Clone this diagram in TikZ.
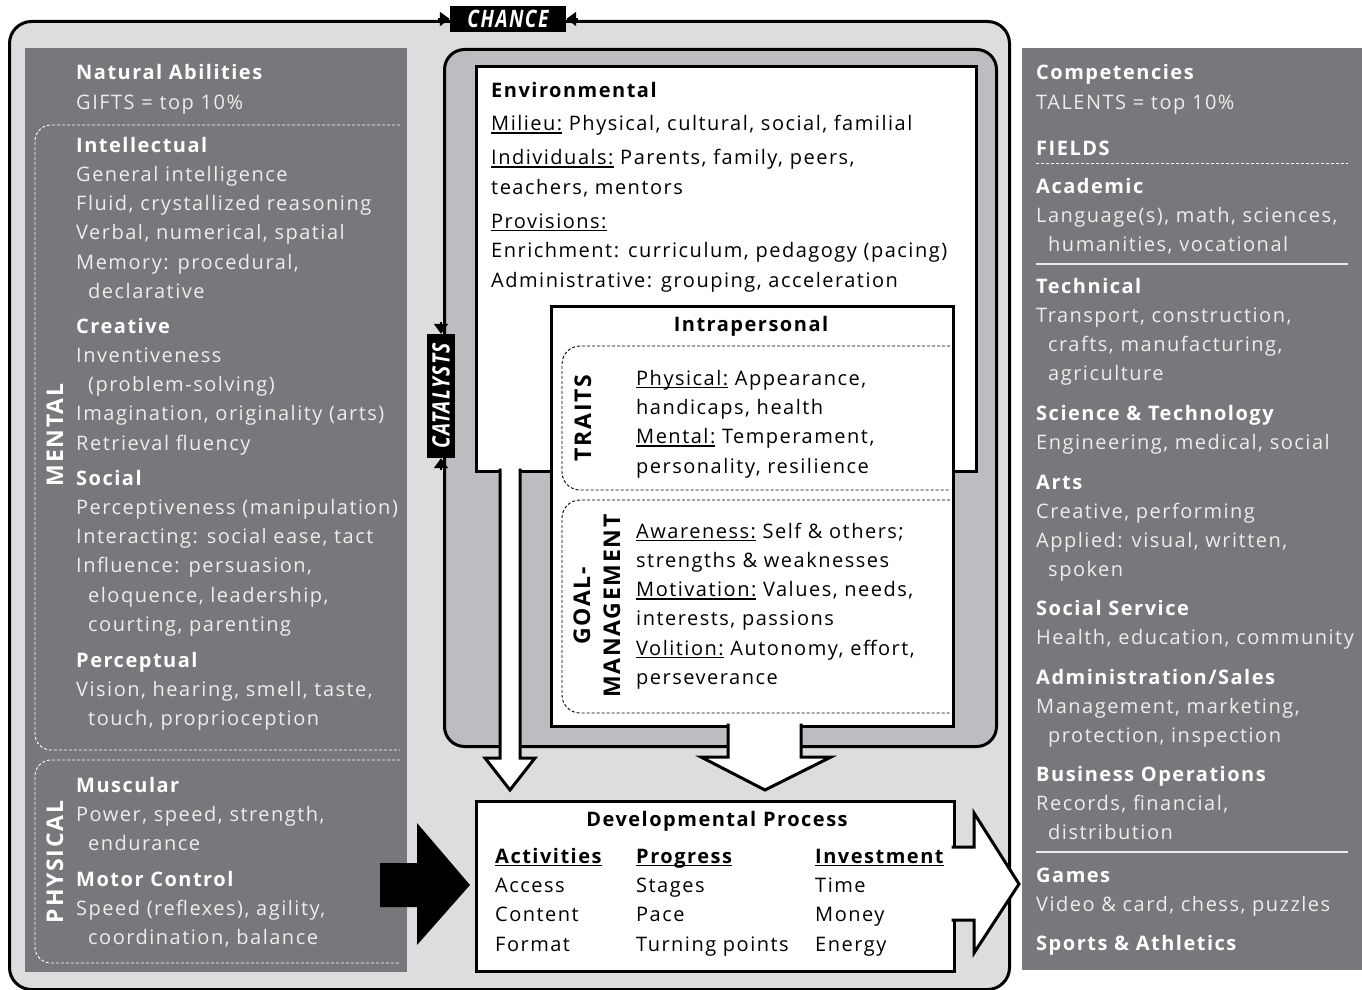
\documentclass[tikz,border=0pt]{standalone}
\usepackage{fontspec}
\setmainfont{Open Sans}[LetterSpace=7.5]
\usepackage{graphicx}
\usetikzlibrary{arrows.meta,positioning}

\definecolor{outerbg}{HTML}{DCDDDE}
\definecolor{innerbg}{HTML}{BCBDC0}
\definecolor{panelbg}{HTML}{77787B}
\definecolor{paneltxt}{HTML}{EDEDED}

\newcommand{\undl}[1]{\setbox0\hbox{#1}\rlap{\rule[-3pt]{\wd0}{1.4pt}}\box0\relax}
\newcommand{\hd}[1]{{\bfseries\color{white}#1}}
\newcommand{\ind}{\hspace*{12pt}}

\begin{document}
\begin{tikzpicture}[x=1pt,y=-1pt]
  \tikzset{
    every node/.style={inner sep=0pt},
    body/.style={font=\fontsize{20}{29.3}\selectfont},
    % multi-line texts are placed by the baseline of their last line
    paneltext/.style={body, anchor=base west, align=left, text=paneltxt},
    boxtext/.style={body, anchor=base west, align=left, text=black},
    sidelabel/.style={rotate=90, font=\bfseries\fontsize{23}{30}\selectfont},
    tag/.style={fill=black, text=white, font=\bfseries\itshape\fontsize{24}{24}\selectfont},
    box/.style={draw=black, line width=3pt, anchor=north west},
    whitebox/.style={box, fill=white},
    dashline/.style={dash pattern=on 3pt off 2pt, line width=0.9pt},
    shape arrow/.style={draw=black, line width=3pt, fill=white, line join=miter},
    tip/.style={-{Triangle[length=10pt,width=14pt]}, line width=2pt},
  }
  \useasboundingbox (0,0) rectangle (1362,990);

  % outer frame and the two side panels
  \node[box, fill=outerbg, rounded corners=22, minimum width=1000, minimum height=968] (frame) at (8,20) {};
  \node[anchor=north west, fill=panelbg, minimum width=382, minimum height=924] (gifts) at (25,48) {};
  \node[anchor=north west, fill=panelbg, minimum width=340, minimum height=922] (talents) at (1022,48) {};

  % catalysts area
  \node[box, fill=innerbg, rounded corners=20, minimum width=552, minimum height=697] (catbox) at (443,48) {};
  \node[whitebox, minimum width=500, minimum height=405] (env) at (475,65) {};
  \node[whitebox, minimum width=402, minimum height=420] (intra) at (550,305) {};
  \node[whitebox, minimum width=478, minimum height=170] (dev) at (475,800) {};

  % arrows into the developmental process
  \draw[shape arrow] (500,468.5) -- (500,758) -- (485,758) -- (510,790) -- (535,758) -- (520,758) -- (520,468.5);
  \draw[shape arrow] (728,723.5) -- (728,757) -- (701,757) -- (765,790) -- (831,757) -- (801,757) -- (801,723.5);
  \draw[shape arrow] (951.5,847) -- (974,847) -- (974,813) -- (1019,884) -- (974,953) -- (974,920) -- (951.5,920);
  \fill[black] (380,863) -- (417,863) -- (417,823) -- (470,885) -- (417,945) -- (417,907) -- (380,907) -- cycle;

  % chance and catalysts tags
  \node[tag, minimum width=116, minimum height=26] (chance) at (508,19) {\scalebox{0.8}[1]{CHANCE}};
  \draw[tip] ([xshift=-12pt]chance.west) -- (chance.west);
  \draw[tip] ([xshift=12pt]chance.east) -- (chance.east);
  \node[tag, rotate=90, minimum width=124, minimum height=28] (catalysts) at (441,396) {\scalebox{0.8}[1]{CATALYSTS}};
  \draw[tip] ([yshift=12pt]catalysts.east) -- (catalysts.east);
  \draw[tip] ([yshift=-12pt]catalysts.west) -- (catalysts.west);

  % dashed groups, left panel
  \draw[white, dashline, rounded corners=16] (400,125) -- (35,125) -- (35,750) -- (400,750);
  \draw[white, dashline, rounded corners=16] (400,760) -- (35,760) -- (35,963) -- (400,963);
  \node[sidelabel, text=white] (mental) at (55,435) {MENTAL};
  \node[sidelabel, text=white] (physical) at (55,862) {PHYSICAL};

  % natural abilities
  \node[paneltext] (nat) at (76,109.3) {\hd{Natural Abilities}\\GIFTS = top 10\%};
  \node[paneltext] (intel) at (76,298.5) {\hd{Intellectual}\\General intelligence\\Fluid, crystallized reasoning\\Verbal, numerical, spatial\\Memory: procedural,\\\ind declarative};
  \node[paneltext] (creat) at (76,450.2) {\hd{Creative}\\Inventiveness\\\ind(problem-solving)\\Imagination, originality (arts)\\Retrieval fluency};
  \node[paneltext] (soc) at (76,631.5) {\hd{Social}\\Perceptiveness (manipulation)\\Interacting: social ease, tact\\Influence: persuasion,\\\ind eloquence, leadership,\\\ind courting, parenting};
  \node[paneltext] (perc) at (76,725.6) {\hd{Perceptual}\\Vision, hearing, smell, taste,\\\ind touch, proprioception};
  \node[paneltext] (musc) at (76,850.6) {\hd{Muscular}\\Power, speed, strength,\\\ind endurance};
  \node[paneltext] (motor) at (76,944.6) {\hd{Motor Control}\\Speed (reflexes), agility,\\\ind coordination, balance};

  % environmental
  \node[boxtext] (envtext) at (491,287) {\bfseries Environmental\\[4pt]
    \undl{Milieu:} Physical, cultural, social, familial\\[5pt]
    \undl{Individuals:} Parents, family, peers,\\teachers, mentors\\[5pt]
    \undl{Provisions:}\\Enrichment: curriculum, pedagogy (pacing)\\Administrative: grouping, acceleration};

  % intrapersonal
  \node[anchor=base, font=\bfseries\fontsize{20}{29.3}\selectfont] (intratitle) at (751,331) {Intrapersonal};
  \draw[dashline, rounded corners=18] (950,346) -- (562,346) -- (562,490) -- (950,490);
  \draw[dashline, rounded corners=18] (950,500) -- (562,500) -- (562,713) -- (950,713);
  \node[sidelabel] (traits) at (583,418) {TRAITS};
  \node[sidelabel, align=center] (goal) at (597,606) {GOAL-\\MANAGEMENT};
  \node[boxtext] (traittext) at (636,473) {\undl{Physical:} Appearance,\\handicaps, health\\\undl{Mental:} Temperament,\\personality, resilience};
  \node[boxtext] (goaltext) at (636,684.5) {\undl{Awareness:} Self \& others;\\strengths \& weaknesses\\\undl{Motivation:} Values, needs,\\interests, passions\\\undl{Volition:} Autonomy, effort,\\perseverance};

  % developmental process
  \node[anchor=base, font=\bfseries\fontsize{20}{29.3}\selectfont] (devtitle) at (717,826) {Developmental Process};
  \node[boxtext] (activ) at (495,951) {\undl{\bfseries Activities}\\Access\\Content\\Format};
  \node[boxtext] (progr) at (636,951) {\undl{\bfseries Progress}\\Stages\\Pace\\Turning points};
  \node[boxtext] (invest) at (815,951) {\undl{\bfseries Investment}\\Time\\Money\\Energy};

  % competencies
  \node[paneltext] (comp) at (1036,109.3) {\hd{Competencies}\\TALENTS = top 10\%};
  \node[paneltext] (fields) at (1036,155) {\hd{FIELDS}};
  \draw[white, dashline] (1036,163) -- (1348,163);
  \node[paneltext] (acad) at (1036,251.6) {\hd{Academic}\\Language(s), math, sciences,\\\ind humanities, vocational};
  \draw[paneltxt, line width=1.5pt] (1036,264) -- (1348,264);
  \node[paneltext] (tech) at (1036,380.9) {\hd{Technical}\\Transport, construction,\\\ind crafts, manufacturing,\\\ind agriculture};
  \node[paneltext] (scitech) at (1036,449.3) {\hd{Science \& Technology}\\Engineering, medical, social};
  \node[paneltext] (arts) at (1036,576.9) {\hd{Arts}\\Creative, performing\\Applied: visual, written,\\\ind spoken};
  \node[paneltext] (socserv) at (1036,644.3) {\hd{Social Service}\\Health, education, community};
  \node[paneltext] (admin) at (1036,742.6) {\hd{Administration/Sales}\\Management, marketing,\\\ind protection, inspection};
  \node[paneltext] (busops) at (1036,839.6) {\hd{Business Operations}\\Records, financial,\\\ind distribution};
  \draw[paneltxt, line width=1.5pt] (1036,852) -- (1348,852);
  \node[paneltext] (games) at (1036,911.3) {\hd{Games}\\Video \& card, chess, puzzles};
  \node[paneltext] (sports) at (1036,950) {\hd{Sports \& Athletics}};
\end{tikzpicture}
\end{document}
